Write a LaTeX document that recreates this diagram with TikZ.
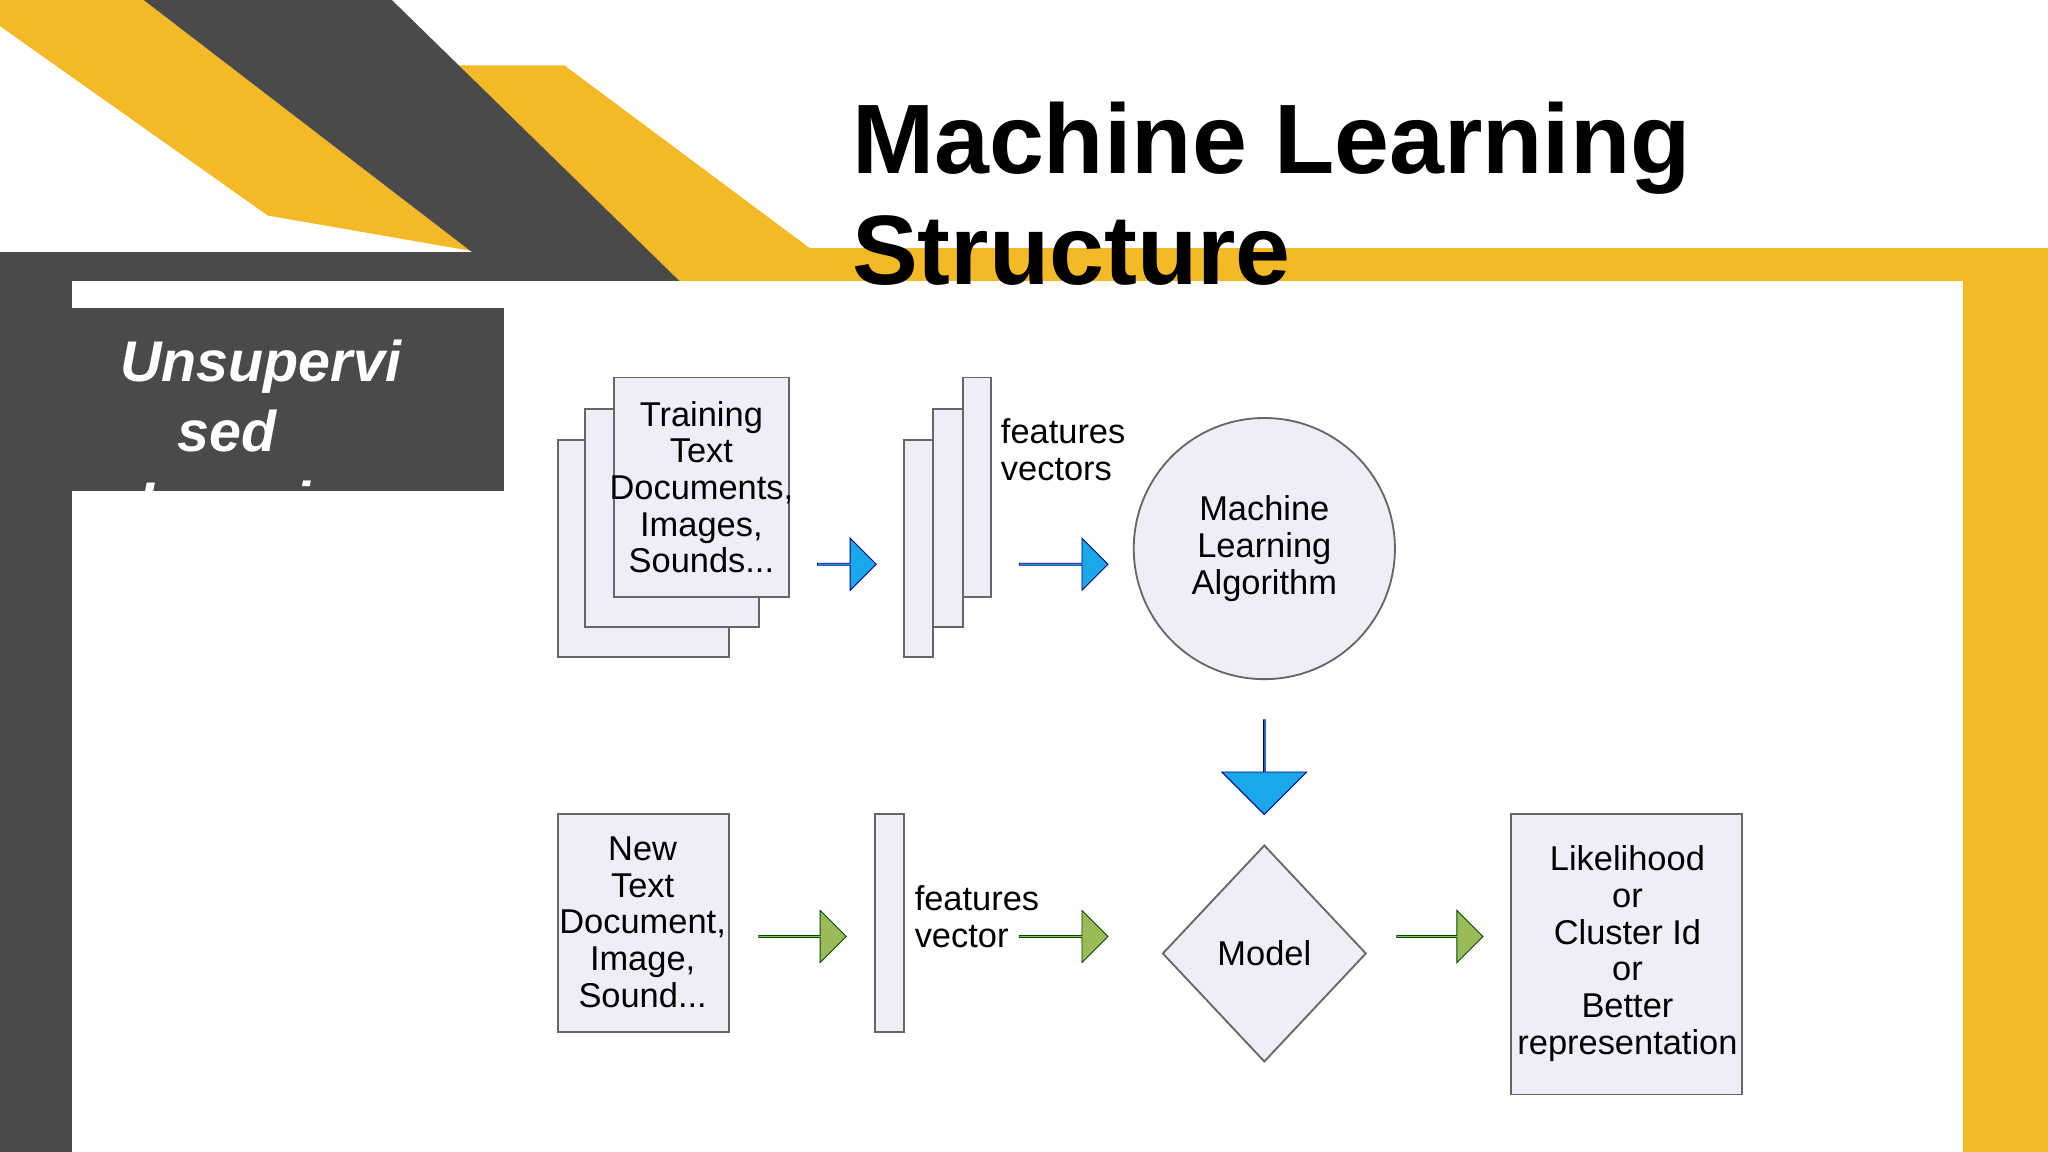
\documentclass[tikz,border=0pt]{standalone}
\usepackage{fontspec}
\setmainfont{Liberation Sans}
\usetikzlibrary{shapes.geometric,shapes.arrows,positioning}
\definecolor{ylw}{HTML}{F4B927}
\definecolor{dgray}{HTML}{4A4A4A}
\definecolor{paper}{HTML}{EEEEF8}
\definecolor{bluearr}{HTML}{1AA7EC}
\definecolor{greenarr}{HTML}{9BBB59}
\begin{document}
\begin{tikzpicture}[x=0.02cm,y=-0.02cm,
  box/.style={draw=black!60,fill=paper,line width=0.8pt},
  txt/.style={font=\fontsize{15}{16}\selectfont,align=center,inner sep=0pt},
  barr/.style={single arrow,draw=blue!50!black,fill=bluearr,single arrow head extend=0.18cm,minimum width=0.8cm,inner sep=0pt},
  garr/.style={single arrow,draw=green!30!black,fill=greenarr,single arrow head extend=0.18cm,minimum width=0.8cm,inner sep=0pt}]
\useasboundingbox (0,0) rectangle (1568,882);
\fill[white] (0,0) rectangle (1568,882);
% background bands
\fill[ylw] (0,0) -- (110,0) -- (360,192) -- (205,165) -- (0,20) -- cycle;
\fill[ylw] (300,50) -- (432,50) -- (620,190) -- (1568,190) -- (1568,882) -- (1503,882) -- (1503,215) -- (520,215) -- cycle;
\fill[dgray] (110,0) -- (300,0) -- (520,215) -- (395,215) -- (360,192) -- cycle;
\fill[dgray] (0,193) rectangle (395,215);
\fill[dgray] (0,193) rectangle (55,882);
\fill[white] (55,215) rectangle (1503,882);
% side label
\fill[dgray] (55,236) rectangle (386,376);
\begin{scope}
\clip (55,236) rectangle (386,376);
\node[anchor=base west,text=white,font=\fontsize{25}{30}\selectfont\bfseries\itshape] (lab1) at (86,292) {Unsupervi};
\node[anchor=base west,text=white,font=\fontsize{25}{30}\selectfont\bfseries\itshape] (lab2) at (130,346) {sed};
\node[anchor=base west,text=white,font=\fontsize{25}{30}\selectfont\bfseries\itshape] (lab3) at (100,400) {Learning};
\end{scope}
% title
\node[anchor=base west,font=\fontsize{43}{48}\selectfont\bfseries,inner sep=0pt] (title1) at (652,133) {Machine Learning};
\node[anchor=base west,font=\fontsize{43}{48}\selectfont\bfseries,inner sep=0pt] (title2) at (652,218) {Structure};
% training documents
\draw[box] (427,337) rectangle (558,503);
\draw[box] (448,313) rectangle (581,480);
\draw[box] (470,289) rectangle (604,457);
\node[txt] (train) at (537,373) {Training\\Text\\Documents,\\Images,\\Sounds...};
\node[barr,minimum height=0.9cm] (a1) at (648,432) {};
% feature vectors
\draw[box] (692,337) rectangle (714,503);
\draw[box] (714,313) rectangle (737,480);
\draw[box] (737,289) rectangle (759,457);
\node[txt,align=left,anchor=north west] (fv) at (766,320) {features\\vectors};
\node[barr,minimum height=1.36cm] (a2) at (814,432) {};
% algorithm
\node[circle,box,minimum size=4cm,txt] (algo) at (968,420) {Machine\\Learning\\Algorithm};
\node[barr,minimum height=1.45cm,shape border rotate=270,minimum width=1.3cm,single arrow head extend=0.35cm] (a3) at (968,587) {};
% new document row
\draw[box] (427,623) rectangle (558,790);
\node[txt] (newdoc) at (492,706) {New\\Text\\Document,\\Image,\\Sound...};
\node[garr,minimum height=1.34cm] (a4) at (614,717) {};
\draw[box] (670,623) rectangle (692,790);
\node[txt,align=left,anchor=north west] (fv2) at (700,678) {features\\vector};
\node[garr,minimum height=1.36cm] (a5) at (814,717) {};
\node[diamond,box,minimum width=3.12cm,minimum height=3.32cm,txt] (model) at (968,730) {Model};
\node[garr,minimum height=1.32cm] (a6) at (1102,717) {};
\draw[box] (1157,623) rectangle (1334,838);
\node[txt] (out) at (1246,730) {Likelihood\\or\\Cluster Id\\or\\Better\\representation};
\end{tikzpicture}
\end{document}
